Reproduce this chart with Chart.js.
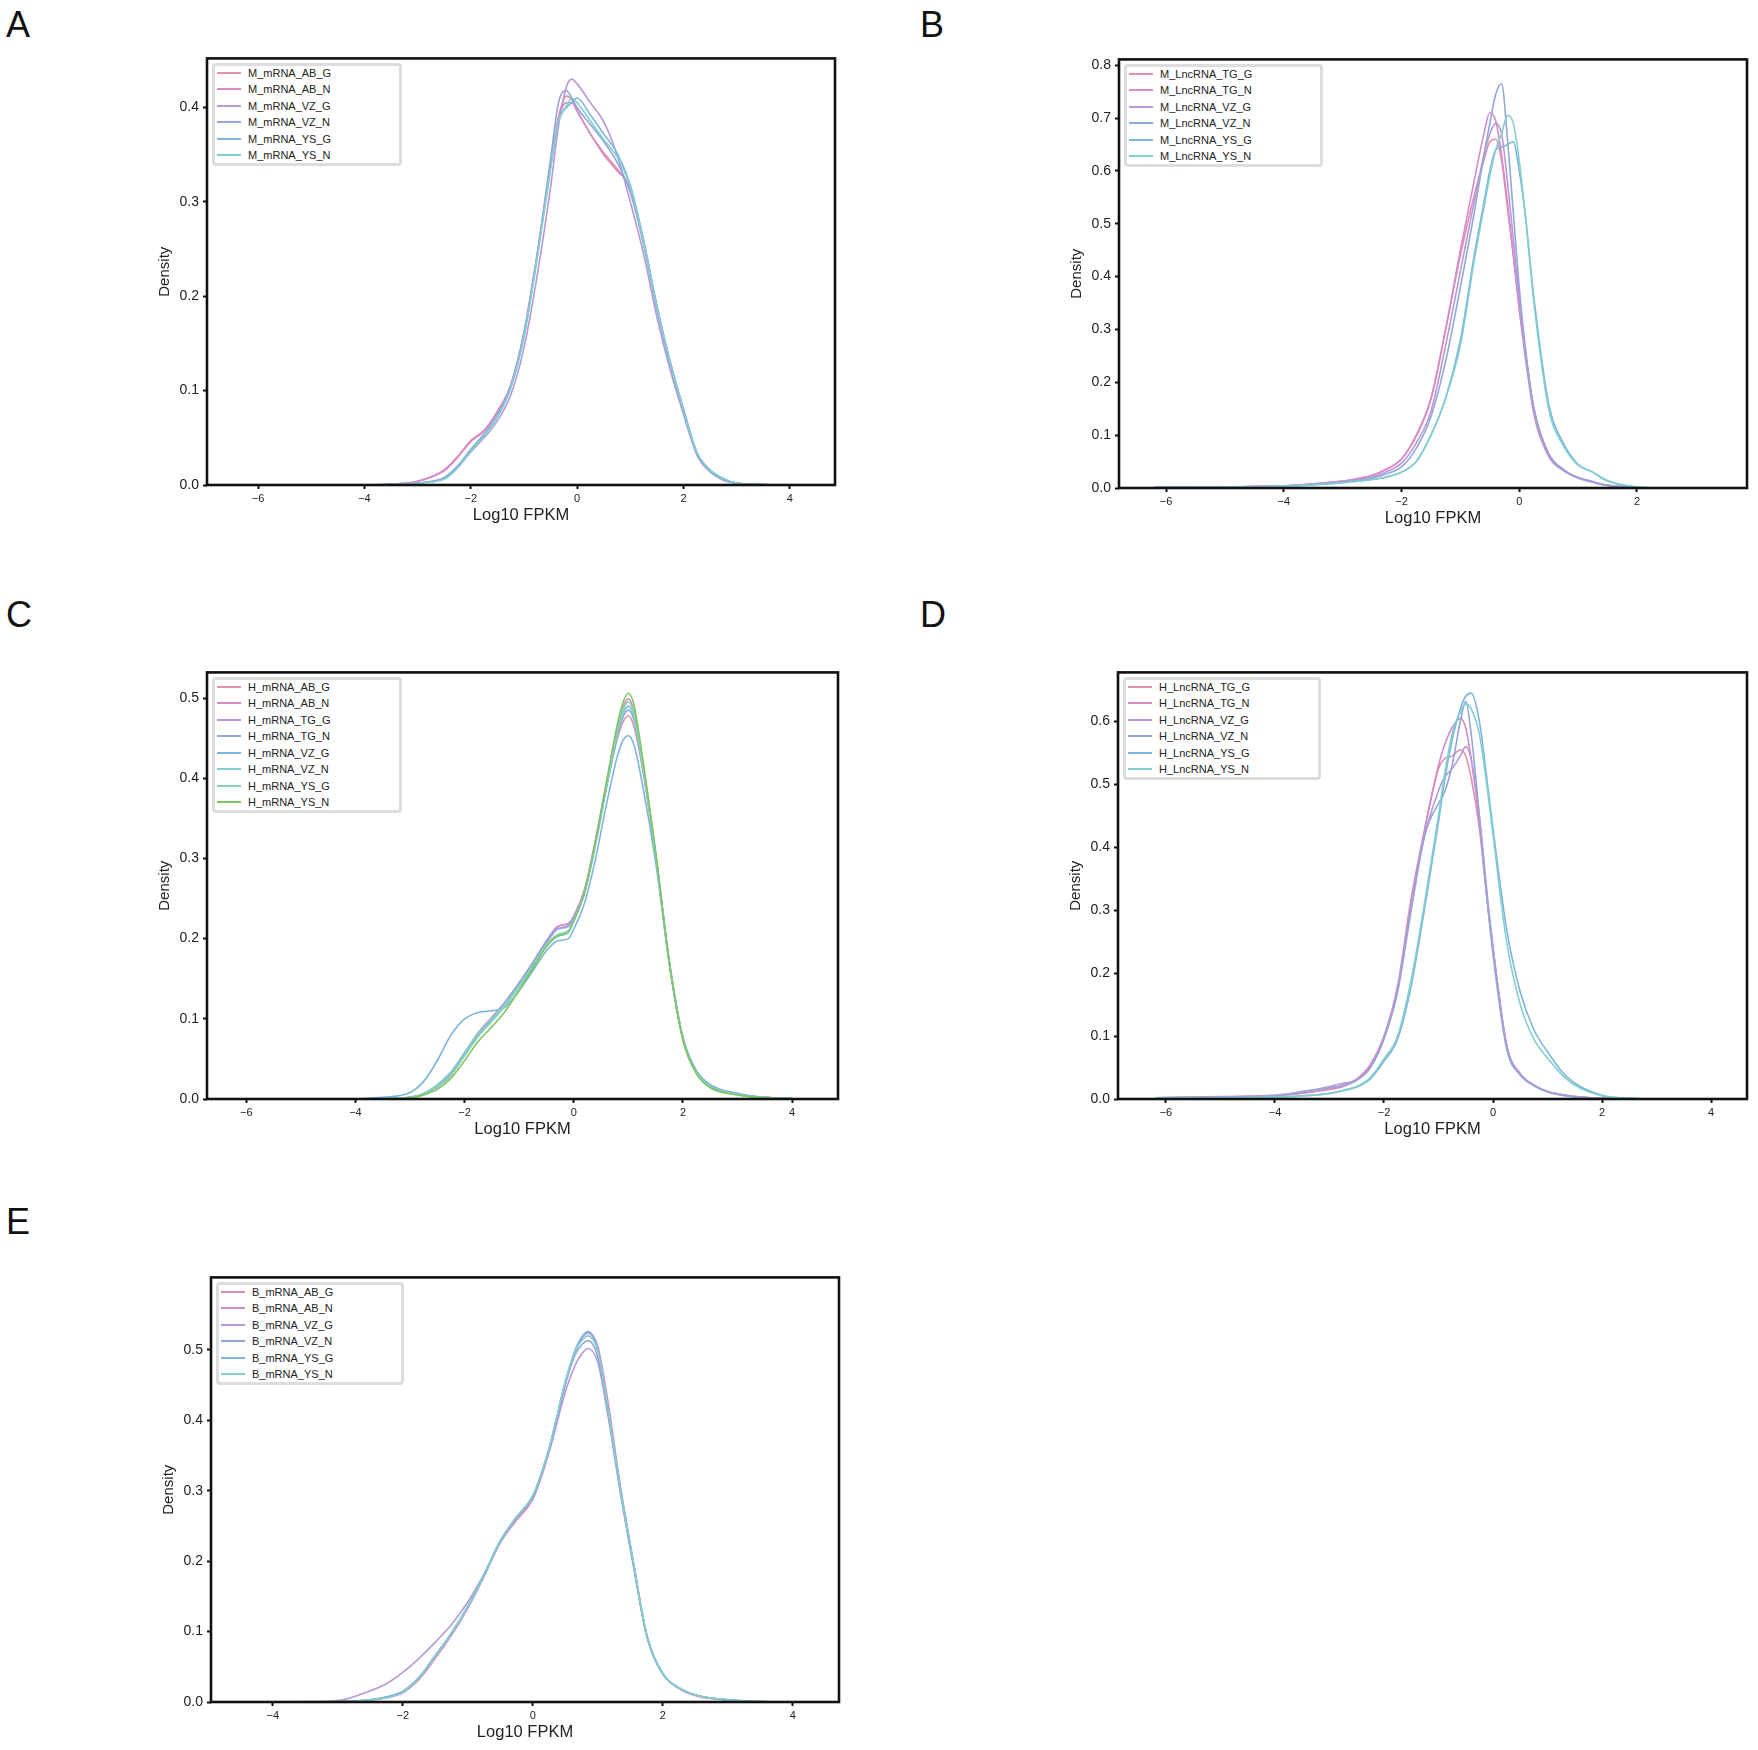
<!DOCTYPE html>
<html>
<head>
<meta charset="utf-8">
<script src="https://cdn.jsdelivr.net/npm/chart.js@4.4.1/dist/chart.umd.min.js"></script>
<style>
    body {
        margin: 0;
        width: 1758px;
        height: 1750px;
        background: #fff;
        position: relative;
        overflow: hidden;
        font-family: "Liberation Sans", Arial, sans-serif;
    }
    .panel-letter {
        position: absolute;
        font-size: 36px;
        line-height: 36px;
        color: #111;
    }
    .chart-wrap { position: absolute; }
    .legend {
        position: absolute;
        background: #fff;
        border: 3px solid #dddddd;
        border-radius: 4px;
        padding: 0 68px 0 2px;
        font-size: 11px;
        color: #222;
    }
    .legend-row {
        display: flex;
        align-items: center;
        height: 16.5px;
        white-space: nowrap;
    }
    .legend-row:first-child { margin-top: -2px; }
    .legend-line {
        width: 24px;
        height: 2px;
        margin-right: 7px;
    }
</style>
</head>
<body>
<script>
// ---- Data ----

// Panel A: M mRNA
const aLabels = ['M_mRNA_AB_G', 'M_mRNA_AB_N', 'M_mRNA_VZ_G', 'M_mRNA_VZ_N', 'M_mRNA_YS_G', 'M_mRNA_YS_N'];
const aX = [-4, -3.5, -3, -2.5, -2.25, -2, -1.75, -1.5, -1.25, -1, -0.75, -0.5, -0.35, -0.2, -0.1, 0, 0.25, 0.5, 0.75, 1, 1.25, 1.5, 1.75, 2, 2.25, 2.5, 2.75, 3, 3.5, 4];
const aAB_G = [0, 0.001, 0.004, 0.016, 0.03, 0.047, 0.058, 0.078, 0.106, 0.162, 0.245, 0.34, 0.39, 0.412, 0.408, 0.397, 0.372, 0.35, 0.333, 0.315, 0.258, 0.19, 0.13, 0.08, 0.034, 0.015, 0.006, 0.002, 0.0004, 0];
const aAB_N = [0, 0.001, 0.004, 0.015, 0.029, 0.046, 0.057, 0.077, 0.105, 0.16, 0.243, 0.338, 0.388, 0.405, 0.405, 0.396, 0.372, 0.352, 0.335, 0.313, 0.256, 0.188, 0.128, 0.079, 0.034, 0.015, 0.006, 0.002, 0.0004, 0];
const aVZ_G = [0, 0.0005, 0.002, 0.007, 0.018, 0.035, 0.05, 0.068, 0.095, 0.145, 0.222, 0.315, 0.38, 0.422, 0.43, 0.425, 0.405, 0.385, 0.35, 0.3, 0.245, 0.178, 0.122, 0.075, 0.032, 0.014, 0.005, 0.0015, 0.0003, 0];
const aVZ_N = [0, 0.0005, 0.002, 0.008, 0.02, 0.038, 0.054, 0.074, 0.104, 0.16, 0.245, 0.345, 0.405, 0.418, 0.41, 0.4, 0.382, 0.364, 0.342, 0.31, 0.255, 0.186, 0.128, 0.079, 0.034, 0.015, 0.006, 0.002, 0.0004, 0];
const aYS_G = [0, 0.0005, 0.002, 0.007, 0.019, 0.037, 0.053, 0.073, 0.103, 0.158, 0.242, 0.335, 0.385, 0.4, 0.405, 0.41, 0.392, 0.372, 0.352, 0.318, 0.26, 0.19, 0.131, 0.081, 0.035, 0.016, 0.007, 0.002, 0.0004, 0];
const aYS_N = [0, 0.0005, 0.002, 0.006, 0.018, 0.036, 0.052, 0.072, 0.102, 0.156, 0.24, 0.335, 0.385, 0.402, 0.41, 0.405, 0.386, 0.366, 0.348, 0.316, 0.258, 0.189, 0.13, 0.08, 0.035, 0.016, 0.007, 0.002, 0.0004, 0];
const aXTicks = [-6, -4, -2, 0, 2, 4];
const aYTicks = [0, 0.1, 0.2, 0.3, 0.4];

// Panel B: M LncRNA
const bLabels = ['M_LncRNA_TG_G', 'M_LncRNA_TG_N', 'M_LncRNA_VZ_G', 'M_LncRNA_VZ_N', 'M_LncRNA_YS_G', 'M_LncRNA_YS_N'];
const bX = [-6.2, -5, -4, -3.5, -3, -2.5, -2.25, -2, -1.75, -1.5, -1.25, -1, -0.75, -0.6, -0.5, -0.4, -0.3, -0.2, -0.1, 0, 0.1, 0.25, 0.5, 0.75, 1, 1.25, 1.5, 2, 2.5, 3];
const bTG_G = [0.001, 0.002, 0.004, 0.008, 0.013, 0.024, 0.036, 0.055, 0.1, 0.17, 0.3, 0.44, 0.56, 0.62, 0.655, 0.66, 0.62, 0.53, 0.44, 0.34, 0.26, 0.15, 0.065, 0.035, 0.02, 0.012, 0.005, 0.001, 0, 0];
const bTG_N = [0.001, 0.002, 0.004, 0.008, 0.013, 0.024, 0.036, 0.055, 0.098, 0.168, 0.3, 0.45, 0.59, 0.67, 0.71, 0.695, 0.63, 0.54, 0.44, 0.34, 0.25, 0.14, 0.06, 0.033, 0.019, 0.011, 0.005, 0.001, 0, 0];
const bVZ_G = [0.001, 0.002, 0.004, 0.007, 0.012, 0.021, 0.031, 0.047, 0.085, 0.145, 0.27, 0.41, 0.55, 0.63, 0.67, 0.69, 0.67, 0.58, 0.47, 0.36, 0.26, 0.15, 0.062, 0.034, 0.019, 0.011, 0.005, 0.001, 0, 0];
const bVZ_N = [0.001, 0.002, 0.004, 0.007, 0.011, 0.019, 0.027, 0.04, 0.075, 0.135, 0.24, 0.38, 0.53, 0.63, 0.69, 0.745, 0.765, 0.66, 0.52, 0.38, 0.27, 0.15, 0.065, 0.035, 0.02, 0.012, 0.005, 0.001, 0, 0];
const bYS_G = [0.001, 0.002, 0.003, 0.006, 0.01, 0.016, 0.021, 0.03, 0.05, 0.1, 0.17, 0.28, 0.45, 0.54, 0.6, 0.64, 0.645, 0.65, 0.655, 0.6, 0.52, 0.36, 0.16, 0.085, 0.045, 0.03, 0.013, 0.002, 0, 0];
const bYS_N = [0.001, 0.002, 0.003, 0.006, 0.01, 0.016, 0.021, 0.03, 0.05, 0.1, 0.17, 0.27, 0.44, 0.53, 0.59, 0.64, 0.67, 0.705, 0.69, 0.62, 0.52, 0.35, 0.15, 0.08, 0.043, 0.03, 0.014, 0.002, 0, 0];
const bXTicks = [-6, -4, -2, 0, 2];
const bYTicks = [0, 0.1, 0.2, 0.3, 0.4, 0.5, 0.6, 0.7, 0.8];

// Panel C: H mRNA
const cLabels = ['H_mRNA_AB_G', 'H_mRNA_AB_N', 'H_mRNA_TG_G', 'H_mRNA_TG_N', 'H_mRNA_VZ_G', 'H_mRNA_VZ_N', 'H_mRNA_YS_G', 'H_mRNA_YS_N'];
const cX = [-4, -3.5, -3, -2.75, -2.5, -2.25, -2, -1.75, -1.5, -1.25, -1, -0.75, -0.5, -0.3, -0.1, 0, 0.2, 0.4, 0.6, 0.8, 0.9, 1, 1.1, 1.25, 1.5, 1.75, 2, 2.25, 2.5, 3, 3.5, 4];
const cAB_G = [0, 0.0003, 0.002, 0.007, 0.017, 0.033, 0.058, 0.083, 0.102, 0.122, 0.145, 0.17, 0.197, 0.215, 0.219, 0.228, 0.262, 0.322, 0.39, 0.45, 0.47, 0.478, 0.465, 0.415, 0.302, 0.17, 0.075, 0.034, 0.017, 0.006, 0.002, 0.0005];
const cAB_N = [0, 0.0003, 0.002, 0.006, 0.016, 0.032, 0.057, 0.082, 0.101, 0.121, 0.144, 0.17, 0.197, 0.215, 0.219, 0.228, 0.262, 0.325, 0.395, 0.462, 0.488, 0.499, 0.484, 0.425, 0.305, 0.17, 0.075, 0.033, 0.016, 0.006, 0.002, 0.0005];
const cTG_G = [0, 0.0003, 0.002, 0.006, 0.015, 0.03, 0.055, 0.08, 0.1, 0.12, 0.143, 0.168, 0.195, 0.212, 0.217, 0.227, 0.26, 0.322, 0.392, 0.458, 0.481, 0.49, 0.477, 0.42, 0.305, 0.17, 0.075, 0.033, 0.016, 0.006, 0.002, 0.0005];
const cTG_N = [0, 0.0003, 0.002, 0.006, 0.015, 0.03, 0.055, 0.08, 0.1, 0.121, 0.145, 0.17, 0.197, 0.212, 0.215, 0.225, 0.258, 0.318, 0.388, 0.453, 0.476, 0.485, 0.473, 0.418, 0.305, 0.172, 0.077, 0.035, 0.018, 0.007, 0.002, 0.0005];
const cVZ_G = [0.0002, 0.002, 0.008, 0.022, 0.048, 0.08, 0.1, 0.108, 0.11, 0.115, 0.135, 0.16, 0.185, 0.197, 0.2, 0.212, 0.245, 0.3, 0.368, 0.428, 0.447, 0.453, 0.442, 0.395, 0.295, 0.168, 0.076, 0.034, 0.017, 0.006, 0.002, 0.0005];
const cVZ_N = [0, 0.0003, 0.002, 0.007, 0.018, 0.034, 0.058, 0.082, 0.1, 0.119, 0.142, 0.167, 0.193, 0.205, 0.21, 0.223, 0.258, 0.32, 0.39, 0.457, 0.48, 0.49, 0.476, 0.42, 0.304, 0.17, 0.075, 0.033, 0.016, 0.006, 0.002, 0.0005];
const cYS_G = [0, 0.0003, 0.002, 0.006, 0.015, 0.03, 0.054, 0.078, 0.097, 0.117, 0.14, 0.165, 0.192, 0.203, 0.208, 0.222, 0.258, 0.32, 0.392, 0.46, 0.485, 0.495, 0.481, 0.423, 0.305, 0.17, 0.074, 0.032, 0.015, 0.005, 0.0015, 0.0004];
const cYS_N = [0, 0.0002, 0.0015, 0.005, 0.012, 0.026, 0.048, 0.072, 0.09, 0.11, 0.136, 0.163, 0.19, 0.203, 0.208, 0.222, 0.258, 0.322, 0.396, 0.468, 0.494, 0.506, 0.492, 0.43, 0.308, 0.17, 0.073, 0.031, 0.014, 0.005, 0.0015, 0.0004];
const cXTicks = [-6, -4, -2, 0, 2, 4];
const cYTicks = [0, 0.1, 0.2, 0.3, 0.4, 0.5];

// Panel D: H LncRNA
const dLabels = ['H_LncRNA_TG_G', 'H_LncRNA_TG_N', 'H_LncRNA_VZ_G', 'H_LncRNA_VZ_N', 'H_LncRNA_YS_G', 'H_LncRNA_YS_N'];
const dX = [-6.2, -5, -4, -3.5, -3, -2.75, -2.5, -2.25, -2, -1.75, -1.5, -1.25, -1, -0.9, -0.75, -0.6, -0.5, -0.4, -0.25, -0.1, 0, 0.25, 0.5, 0.75, 1, 1.25, 1.5, 2, 2.5, 3, 4];
const dTG_G = [0.002, 0.004, 0.006, 0.01, 0.016, 0.022, 0.032, 0.055, 0.1, 0.18, 0.32, 0.43, 0.525, 0.54, 0.545, 0.555, 0.545, 0.51, 0.43, 0.31, 0.24, 0.085, 0.04, 0.022, 0.012, 0.007, 0.004, 0.001, 0, 0, 0];
const dTG_N = [0.002, 0.003, 0.005, 0.009, 0.015, 0.02, 0.03, 0.052, 0.098, 0.175, 0.31, 0.43, 0.53, 0.56, 0.59, 0.605, 0.59, 0.54, 0.44, 0.31, 0.24, 0.085, 0.04, 0.022, 0.012, 0.007, 0.004, 0.001, 0, 0, 0];
const dVZ_G = [0.002, 0.003, 0.006, 0.011, 0.02, 0.025, 0.03, 0.05, 0.097, 0.175, 0.31, 0.42, 0.49, 0.51, 0.525, 0.545, 0.56, 0.54, 0.45, 0.32, 0.24, 0.085, 0.04, 0.022, 0.012, 0.007, 0.004, 0.001, 0, 0, 0];
const dVZ_N = [0.002, 0.003, 0.005, 0.012, 0.018, 0.022, 0.03, 0.05, 0.095, 0.17, 0.3, 0.42, 0.47, 0.485, 0.53, 0.6, 0.632, 0.58, 0.45, 0.31, 0.23, 0.08, 0.038, 0.021, 0.011, 0.006, 0.003, 0.001, 0, 0, 0];
const dYS_G = [0.002, 0.002, 0.003, 0.005, 0.009, 0.013, 0.019, 0.032, 0.06, 0.095, 0.18, 0.305, 0.44, 0.5, 0.57, 0.62, 0.64, 0.645, 0.6, 0.5, 0.43, 0.27, 0.17, 0.11, 0.075, 0.045, 0.025, 0.006, 0.001, 0, 0];
const dYS_N = [0.002, 0.002, 0.003, 0.005, 0.009, 0.014, 0.02, 0.034, 0.064, 0.1, 0.19, 0.315, 0.45, 0.51, 0.58, 0.615, 0.628, 0.62, 0.58, 0.49, 0.42, 0.25, 0.15, 0.095, 0.065, 0.04, 0.022, 0.005, 0.001, 0, 0];
const dXTicks = [-6, -4, -2, 0, 2, 4];
const dYTicks = [0, 0.1, 0.2, 0.3, 0.4, 0.5, 0.6];

// Panel E: B mRNA
const eLabels = ['B_mRNA_AB_G', 'B_mRNA_AB_N', 'B_mRNA_VZ_G', 'B_mRNA_VZ_N', 'B_mRNA_YS_G', 'B_mRNA_YS_N'];
const eX = [-4, -3.5, -3, -2.5, -2.25, -2, -1.75, -1.5, -1.25, -1, -0.75, -0.5, -0.25, 0, 0.25, 0.5, 0.65, 0.75, 0.85, 1, 1.15, 1.35, 1.55, 1.75, 2, 2.25, 2.5, 3, 3.5, 4];
const eAB_G = [0, 0, 0.0004, 0.0025, 0.006, 0.013, 0.032, 0.062, 0.095, 0.133, 0.178, 0.226, 0.258, 0.288, 0.355, 0.45, 0.497, 0.516, 0.525, 0.505, 0.43, 0.305, 0.198, 0.097, 0.04, 0.019, 0.009, 0.0025, 0.0004, 0];
const eAB_N = [0, 0, 0.0005, 0.003, 0.007, 0.015, 0.034, 0.065, 0.097, 0.135, 0.18, 0.228, 0.261, 0.29, 0.358, 0.453, 0.498, 0.516, 0.524, 0.502, 0.425, 0.302, 0.196, 0.096, 0.04, 0.02, 0.01, 0.003, 0.0005, 0];
const eVZ_G = [0, 0.0005, 0.002, 0.016, 0.026, 0.042, 0.062, 0.085, 0.11, 0.142, 0.182, 0.228, 0.262, 0.29, 0.355, 0.44, 0.478, 0.494, 0.502, 0.482, 0.41, 0.295, 0.192, 0.095, 0.04, 0.02, 0.01, 0.003, 0.0005, 0];
const eVZ_N = [0, 0, 0.0005, 0.003, 0.007, 0.015, 0.035, 0.066, 0.098, 0.136, 0.181, 0.229, 0.263, 0.293, 0.36, 0.452, 0.493, 0.507, 0.513, 0.49, 0.415, 0.298, 0.194, 0.095, 0.04, 0.02, 0.01, 0.003, 0.0005, 0];
const eYS_G = [0, 0, 0.0005, 0.003, 0.007, 0.015, 0.035, 0.066, 0.098, 0.135, 0.18, 0.228, 0.262, 0.292, 0.36, 0.455, 0.5, 0.518, 0.526, 0.5, 0.42, 0.3, 0.195, 0.095, 0.04, 0.02, 0.01, 0.003, 0.0005, 0];
const eYS_N = [0, 0, 0.0005, 0.003, 0.006, 0.014, 0.034, 0.065, 0.098, 0.136, 0.181, 0.229, 0.263, 0.293, 0.36, 0.455, 0.498, 0.513, 0.52, 0.498, 0.42, 0.302, 0.197, 0.097, 0.041, 0.02, 0.01, 0.003, 0.0005, 0];
const eXTicks = [-4, -2, 0, 2, 4];
const eYTicks = [0, 0.1, 0.2, 0.3, 0.4, 0.5];

// Line colours, in legend order
const lineColors = ['#e38db0', '#d68ac8', '#b898d8', '#93a6d9', '#7db5dc', '#82cfd0', '#84d3b4', '#7fc661'];

// ---- Layout ----
const AXIS_W = 90;   // room left of plot for y ticks + title
const AXIS_H = 60;   // room under plot for x ticks + title
const PAD = 10;      // top/right breathing room

const panels = [
    { letter: 'A', lx: 6, ly: 7, box: [207, 56, 835, 485], xMin: -6.96, xMax: 4.85, yMax: 0.452,
      x: aX, series: [aAB_G, aAB_N, aVZ_G, aVZ_N, aYS_G, aYS_N], labels: aLabels, xTicks: aXTicks, yTicks: aYTicks },
    { letter: 'B', lx: 920, ly: 7, box: [1119, 57, 1747, 488], xMin: -6.8, xMax: 3.87, yMax: 0.811,
      x: bX, series: [bTG_G, bTG_N, bVZ_G, bVZ_N, bYS_G, bYS_N], labels: bLabels, xTicks: bXTicks, yTicks: bYTicks },
    { letter: 'C', lx: 6, ly: 597, box: [207, 670, 838, 1099], xMin: -6.72, xMax: 4.84, yMax: 0.532,
      x: cX, series: [cAB_G, cAB_N, cTG_G, cTG_N, cVZ_G, cVZ_N, cYS_G, cYS_N], labels: cLabels, xTicks: cXTicks, yTicks: cYTicks },
    { letter: 'D', lx: 920, ly: 597, box: [1118, 670, 1747, 1099], xMin: -6.88, xMax: 4.66, yMax: 0.678,
      x: dX, series: [dTG_G, dTG_N, dVZ_G, dVZ_N, dYS_G, dYS_N], labels: dLabels, xTicks: dXTicks, yTicks: dYTicks },
    { letter: 'E', lx: 6, ly: 1204, box: [211, 1275, 839, 1702], xMin: -4.95, xMax: 4.71, yMax: 0.603,
      x: eX, series: [eAB_G, eAB_N, eVZ_G, eVZ_N, eYS_G, eYS_N], labels: eLabels, xTicks: eXTicks, yTicks: eYTicks }
];

Chart.defaults.font.family = '"Liberation Sans", Arial, sans-serif';
Chart.defaults.color = '#222';

// Black frame round the plot area, like matplotlib spines
const frameBox = {
    id: 'frameBox',
    afterDatasetsDraw(chart) {
        const { ctx, chartArea: a } = chart;
        ctx.save();
        ctx.strokeStyle = '#111';
        ctx.lineWidth = 2.6;
        ctx.strokeRect(a.left, a.top, a.right - a.left, a.bottom - a.top);
        ctx.restore();
    }
};

function minusLabel(v) {
    return v < 0 ? '\u2212' + Math.abs(v) : String(v);
}

function buildLegend(chart, wrapLeft, wrapTop) {
    const a = chart.chartArea;
    const box = document.createElement('div');
    box.className = 'legend';
    box.style.left = (wrapLeft + a.left + 5) + 'px';
    box.style.top = (wrapTop + a.top + 5) + 'px';
    chart.data.datasets.forEach(ds => {
        const row = document.createElement('div');
        row.className = 'legend-row';
        row.innerHTML = `<span class="legend-line" style="background:${ds.borderColor}"></span>${ds.label}`;
        box.appendChild(row);
    });
    document.body.appendChild(box);
}

function drawPanel(p) {
    const letter = document.createElement('div');
    letter.className = 'panel-letter';
    letter.textContent = p.letter;
    letter.style.left = p.lx + 'px';
    letter.style.top = p.ly + 'px';
    document.body.appendChild(letter);

    const [l, t, r, b] = p.box;
    const w = (r - l) + AXIS_W + PAD;
    const h = (b - t) + AXIS_H + PAD;
    const wrapLeft = l - AXIS_W;
    const wrapTop = t - PAD;

    const wrap = document.createElement('div');
    wrap.className = 'chart-wrap';
    wrap.style.left = wrapLeft + 'px';
    wrap.style.top = wrapTop + 'px';
    const canvas = document.createElement('canvas');
    canvas.width = w;
    canvas.height = h;
    canvas.style.width = w + 'px';
    canvas.style.height = h + 'px';
    wrap.appendChild(canvas);
    document.body.appendChild(wrap);

    const datasets = p.series.map((ys, i) => ({
        label: p.labels[i],
        data: p.x.map((xv, k) => ({ x: xv, y: ys[k] })),
        borderColor: lineColors[i],
        borderWidth: 1.6,
        pointRadius: 0,
        cubicInterpolationMode: 'monotone',
        order: -i
    }));

    const chart = new Chart(canvas, {
        type: 'line',
        data: { datasets },
        options: {
            responsive: false,
            animation: false,
            layout: { padding: { top: PAD, right: PAD, left: 0, bottom: 0 } },
            plugins: { legend: { display: false }, tooltip: { enabled: false } },
            scales: {
                x: {
                    type: 'linear',
                    min: p.xMin,
                    max: p.xMax,
                    afterBuildTicks: s => { s.ticks = p.xTicks.map(v => ({ value: v })); },
                    afterFit: s => { s.height = AXIS_H; },
                    grid: { display: true, drawOnChartArea: false, drawTicks: true, tickLength: 4, tickWidth: 2, tickColor: '#111' },
                    border: { display: false },
                    ticks: { autoSkip: false, maxRotation: 0, padding: 3, font: { size: 11 }, callback: v => minusLabel(v) },
                    title: { display: true, text: 'Log10 FPKM', font: { size: 16.5 }, padding: { top: 0, bottom: 20 } }
                },
                y: {
                    type: 'linear',
                    min: 0,
                    max: p.yMax,
                    afterBuildTicks: s => { s.ticks = p.yTicks.map(v => ({ value: v })); },
                    afterFit: s => { s.width = AXIS_W; },
                    grid: { display: true, drawOnChartArea: false, drawTicks: true, tickLength: 4, tickWidth: 2, tickColor: '#111' },
                    border: { display: false },
                    ticks: { autoSkip: false, padding: 4, font: { size: 14 }, callback: v => v.toFixed(1) },
                    title: { display: true, text: 'Density', font: { size: 15 }, padding: { top: 39, bottom: 0 } }
                }
            }
        },
        plugins: [frameBox]
    });

    buildLegend(chart, wrapLeft, wrapTop);
}

document.addEventListener('DOMContentLoaded', () => {
    panels.forEach(drawPanel);
});
</script>
</body>
</html>
